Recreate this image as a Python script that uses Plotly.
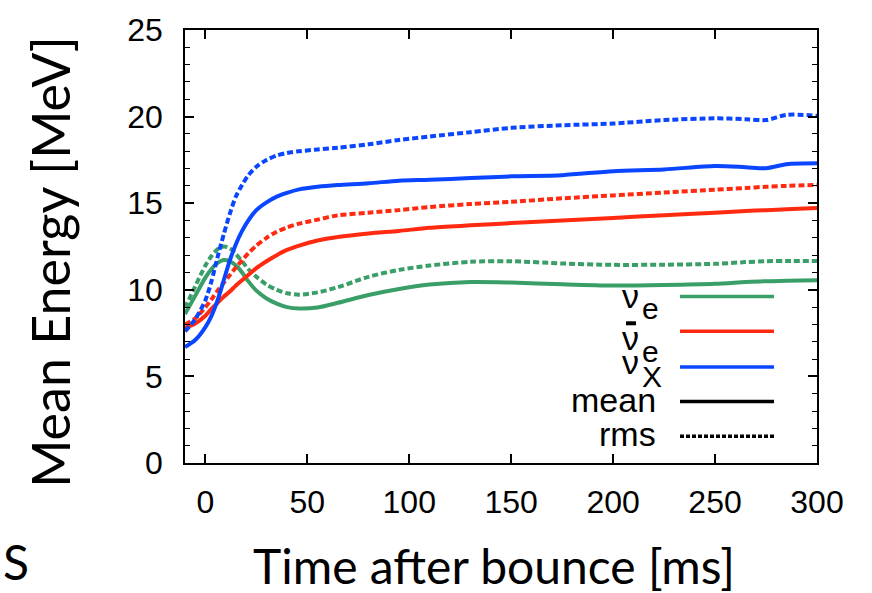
import plotly.graph_objects as go

# ---- data ----
time_ms = [-10, -5, 0, 3, 6, 9, 12, 15, 18, 21, 25, 30, 35, 40, 46, 55, 65, 80, 95,
           110, 130, 150, 175, 200, 225, 250, 265, 275, 285, 300]

nue_mean = [8.6, 9.65, 10.7, 11.2, 11.55, 11.72, 11.65, 11.4, 11.0, 10.5, 9.95, 9.5, 9.2,
            9.0, 8.92, 8.98, 9.25, 9.7, 10.05, 10.3, 10.45, 10.42, 10.32, 10.25, 10.28,
            10.35, 10.45, 10.5, 10.52, 10.55]
nue_rms = [8.95, 10.2, 11.4, 11.95, 12.35, 12.5, 12.4, 12.05, 11.65, 11.2, 10.75, 10.3,
           10.0, 9.8, 9.72, 9.85, 10.15, 10.75, 11.15, 11.4, 11.62, 11.65, 11.52, 11.44,
           11.45, 11.5, 11.6, 11.65, 11.66, 11.67]
anue_mean = [7.8, 8.05, 8.5, 8.9, 9.25, 9.6, 9.9, 10.25, 10.55, 10.85, 11.25, 11.65, 12.0,
             12.3, 12.55, 12.85, 13.05, 13.25, 13.4, 13.58, 13.72, 13.85, 14.0, 14.15,
             14.3, 14.45, 14.55, 14.6, 14.65, 14.72]
anue_rms = [8.0, 8.35, 9.0, 9.45, 9.95, 10.4, 10.85, 11.3, 11.7, 12.1, 12.55, 13.0, 13.35,
            13.6, 13.82, 14.05, 14.3, 14.45, 14.6, 14.78, 14.95, 15.08, 15.28, 15.45,
            15.62, 15.78, 15.88, 15.95, 16.0, 16.05]
nux_mean = [6.7, 7.1, 7.85, 8.5, 9.4, 10.55, 11.7, 12.65, 13.4, 14.0, 14.6, 15.05, 15.38,
            15.6, 15.8, 15.95, 16.05, 16.15, 16.3, 16.35, 16.45, 16.55, 16.62, 16.85,
            16.95, 17.15, 17.08, 17.02, 17.25, 17.3]
nux_rms = [7.6, 8.3, 9.4, 10.5, 11.9, 13.2, 14.4, 15.4, 16.05, 16.6, 17.1, 17.5, 17.75,
           17.9, 18.0, 18.1, 18.2, 18.4, 18.65, 18.85, 19.1, 19.35, 19.5, 19.6, 19.8,
           19.9, 19.85, 19.8, 20.1, 20.05]

x_ticks = [0, 50, 100, 150, 200, 250, 300]
y_ticks = [0, 5, 10, 15, 20, 25]

GREEN = "#3a9e68"
RED = "#ff2a10"
BLUE = "#0a46ff"

series = [
    (nue_mean, GREEN, "solid"), (nue_rms, GREEN, "6px,3px"),
    (anue_mean, RED, "solid"), (anue_rms, RED, "6px,3px"),
    (nux_mean, BLUE, "solid"), (nux_rms, BLUE, "6px,3px"),
]

W, H = 872, 593
L, R, T, B = 185, 55, 26, 130
PW, PH = W - L - R, H - T - B


def px(x):
    return (x - L) / PW


def py(y):
    return (H - B - y) / PH


fig = go.Figure()
for vals, col, dash in series:
    fig.add_trace(go.Scatter(x=time_ms, y=vals, mode="lines",
                             line=dict(color=col, width=4, dash=dash, shape="spline",
                                       smoothing=0.8),
                             showlegend=False, hoverinfo="skip"))

TICKFONT = dict(family="Liberation Sans, Arial, sans-serif", size=32, color="black")
TITLEFONT_X = dict(family="Lato, Open Sans, sans-serif", size=48, color="black")
TITLEFONT_Y = dict(family="Lato, Open Sans, sans-serif", size=52, color="black")

fig.update_layout(
    width=W, height=H,
    margin=dict(l=L, r=R, t=T, b=B),
    paper_bgcolor="white", plot_bgcolor="white",
    showlegend=False,
    xaxis=dict(range=[-10, 300], tickvals=x_ticks, ticks="inside", ticklen=9,
               tickwidth=1.5, tickcolor="black", showline=True, linecolor="black",
               linewidth=1.5, mirror="allticks", showgrid=False, zeroline=False,
               tickfont=TICKFONT, ticklabelstandoff=10),
    yaxis=dict(range=[0, 25], tickvals=y_ticks, ticks="inside", ticklen=9,
               tickwidth=1.5, tickcolor="black", showline=True, linecolor="black",
               linewidth=1.5, mirror="allticks", showgrid=False, zeroline=False,
               tickfont=TICKFONT, ticklabelstandoff=14,
               minor=dict(dtick=1, ticks="inside", ticklen=5, tickwidth=1.2,
                          tickcolor="black", showgrid=False)),
)

# axis titles and stray slide letter
fig.add_annotation(text="Mean Energy [MeV]", xref="paper", yref="paper", x=px(50),
                   y=py(260), textangle=-90, showarrow=False, font=TITLEFONT_Y,
                   xanchor="center", yanchor="middle")
fig.add_annotation(text="Time after bounce [ms]", xref="paper", yref="paper", x=px(494),
                   y=py(566), showarrow=False, font=TITLEFONT_X, xanchor="center",
                   yanchor="middle")
fig.add_annotation(text="S", xref="paper", yref="paper", x=px(16), y=py(562),
                   showarrow=False, font=TITLEFONT_X, xanchor="center", yanchor="middle")

# custom legend (text left of the sample, as in the reference)
LEGFONT = dict(family="Liberation Sans, Arial, sans-serif", size=34, color="black")
SUBFONT = dict(family="Liberation Sans, Arial, sans-serif", size=30, color="black")
# (main text, subscript, colour, dash, line y, main y, sub y)
legend_items = [
    ("ν", "e", GREEN, "solid", 295, 294, 307),
    ("ν", "e", RED, "solid", 330, 337, 350),
    ("ν", "X", BLUE, "solid", 366, 361, 376),
    ("mean", "", "black", "solid", 401, 399, None),
    ("rms", "", "black", "4px,2px", 436, 434, None),
]
for main, sub, col, dash, ly, my, sy in legend_items:
    fig.add_shape(type="line", xref="paper", yref="paper", x0=px(680), x1=px(774),
                  y0=py(ly), y1=py(ly), line=dict(color=col, width=3.5, dash=dash))
    if sub:
        fig.add_annotation(text=main, xref="paper", yref="paper", x=px(641), y=py(my),
                           showarrow=False, font=LEGFONT, xanchor="right",
                           yanchor="middle")
        fig.add_annotation(text=sub, xref="paper", yref="paper", x=px(640), y=py(sy),
                           showarrow=False, font=SUBFONT, xanchor="left",
                           yanchor="middle")
    else:
        fig.add_annotation(text=main, xref="paper", yref="paper", x=px(658), y=py(my),
                           showarrow=False, font=LEGFONT, xanchor="right",
                           yanchor="middle")
# bar of the anti-neutrino symbol
fig.add_shape(type="line", xref="paper", yref="paper", x0=px(626), x1=px(636),
              y0=py(322), y1=py(322), line=dict(color="black", width=4))

fig.write_html("out.html", config={"displayModeBar": False})

# remove the default page margin so the figure sits at the window's top-left corner
with open("out.html", encoding="utf-8") as f:
    html = f.read()
html = html.replace("<body>", '<body style="margin:0;padding:0;">', 1)
with open("out.html", "w", encoding="utf-8") as f:
    f.write(html)
